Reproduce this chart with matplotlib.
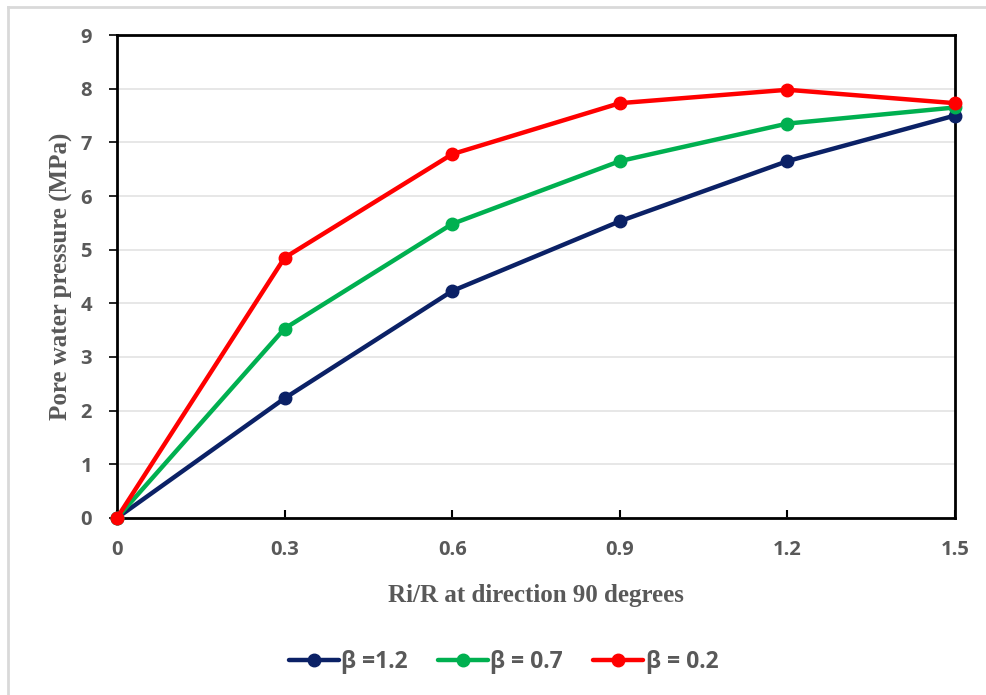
import matplotlib
matplotlib.use("Agg")
import matplotlib.pyplot as plt
from matplotlib.lines import Line2D

# Ri/R ratios along the 90 degree direction (category axis)
x_labels = ["0", "0.3", "0.6", "0.9", "1.2", "1.5"]

# Pore water pressure (MPa) for each beta
beta_12 = [0, 2.23, 4.23, 5.53, 6.65, 7.50]
beta_07 = [0, 3.53, 5.48, 6.65, 7.35, 7.65]
beta_02 = [0, 4.85, 6.78, 7.73, 7.98, 7.73]

series_labels = ["β =1.2", "β = 0.7", "β = 0.2"]
series_colors = ["#0b2166", "#00b050", "#ff0000"]

fig = plt.figure(figsize=(9.87, 6.95), dpi=100)
ax = fig.add_axes([0.1185, 0.2547, 0.8491, 0.6949])

pos = list(range(len(x_labels)))
for vals, lab, col in zip([beta_12, beta_07, beta_02], series_labels, series_colors):
    ax.plot(pos, vals, color=col, lw=3.2, marker="o", ms=9, label=lab,
            solid_capstyle="round", zorder=3, clip_on=False)

ax.set_xlim(0, len(x_labels) - 1)
ax.set_ylim(0, 9)
ax.set_xticks(pos)
ax.set_xticklabels(x_labels)
ax.set_yticks(range(10))

ax.yaxis.grid(True, color="#e3e3e3", lw=1.2)
ax.set_axisbelow(True)
for s in ax.spines.values():
    s.set_color("black")
    s.set_linewidth(2.0)

ax.tick_params(axis="x", direction="in", length=6, width=1.5, pad=16, colors="black")
ax.tick_params(axis="y", direction="out", length=6, width=1.2, pad=12, colors="black")
for t in ax.get_xticklabels() + ax.get_yticklabels():
    t.set_fontfamily("Open Sans")
    t.set_fontweight("bold")
    t.set_fontsize(14.5)
    t.set_color("#595959")

label_font = dict(family="Liberation Serif", weight="bold", size=18, color="#595959")
ax.set_xlabel("Ri/R at direction 90 degrees", labelpad=17, **label_font)
ax.set_ylabel("Pore water pressure (MPa)", labelpad=5, **label_font)

leg = fig.legend(loc="center", bbox_to_anchor=(0.51, 0.047), ncol=3, frameon=False,
                 handlelength=2.2, handletextpad=0.1, columnspacing=1.3,
                 prop=dict(family="Open Sans", weight="bold", size=16.5))
for t in leg.get_texts():
    t.set_color("#595959")

# Thin light frame around the chart area
fig.add_artist(Line2D([0.0081, 0.0081], [0.0, 0.990], transform=fig.transFigure,
                      color="#d9d9d9", lw=2))
fig.add_artist(Line2D([0.0081, 1.0], [0.990, 0.990], transform=fig.transFigure,
                      color="#d9d9d9", lw=2))

fig.savefig("out.png", dpi=100)
